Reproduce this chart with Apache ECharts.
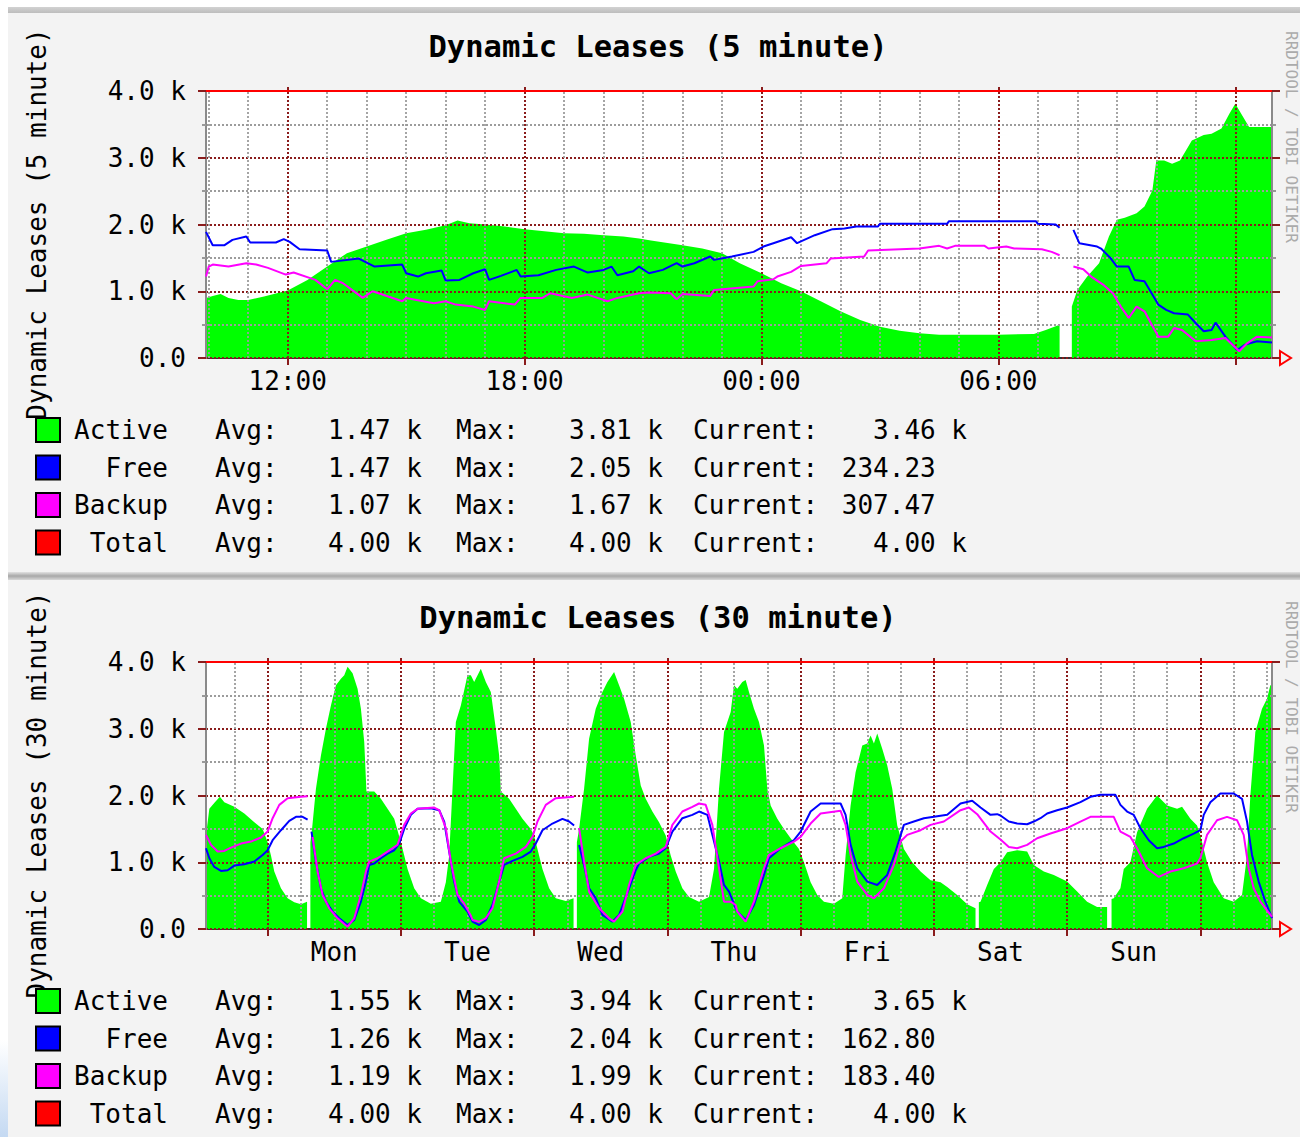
<!DOCTYPE html>
<html>
<head>
<meta charset="utf-8">
<script src="https://cdn.jsdelivr.net/npm/echarts@6/dist/echarts.min.js"></script>
<style>
html, body { margin: 0; padding: 0; background: #fff; }
#main { width: 1300px; height: 1137px; }
</style>
</head>
<body>
<div id="main"></div>
<script>
// ---- data: [hour, value] ----
// top graph: hours counted from midnight of day 1 (24 = 00:00 next day)
const activeTop = [[9.93,900],[10.1,930],[10.3,960],[10.5,900],[10.75,870],[11.0,870],[11.4,920],[12.0,1010],[12.5,1170],[13.0,1370],[13.5,1570],[14.0,1670],[14.5,1770],[15.0,1870],[15.5,1920],[16.0,1990],[16.3,2060],[16.6,2020],[17.0,2000],[17.5,1970],[18.0,1930],[19.0,1870],[19.5,1860],[20.0,1840],[20.5,1820],[20.9,1790],[21.2,1760],[22.0,1690],[22.5,1640],[23.0,1570],[23.45,1420],[24.0,1270],[24.5,1120],[25.0,1000],[25.5,850],[26.0,700],[26.5,570],[27.0,470],[27.5,410],[28.0,370],[28.5,350],[29.0,350],[30.0,350],[30.9,360],[31.2,420],[31.55,500],[31.7,null],[31.86,770],[32.0,1020],[32.25,1220],[32.55,1420],[32.8,1820],[33.0,2070],[33.2,2100],[33.5,2170],[33.7,2270],[33.9,2510],[34.0,2960],[34.2,2960],[34.4,2910],[34.6,2960],[34.9,3260],[35.2,3340],[35.4,3360],[35.65,3440],[35.85,3660],[36.0,3810],[36.15,3660],[36.35,3460],[36.93,3460]];
const freeTop = [[9.93,1890],[10.1,1690],[10.4,1690],[10.6,1770],[10.95,1820],[11.05,1730],[11.7,1730],[11.9,1780],[12.05,1740],[12.3,1630],[13.0,1610],[13.1,1440],[13.8,1490],[14.2,1370],[14.9,1400],[15.0,1270],[15.3,1220],[15.5,1270],[15.9,1310],[16.0,1160],[16.35,1170],[16.7,1270],[17.0,1330],[17.1,1170],[17.4,1230],[17.8,1320],[17.9,1220],[18.35,1240],[18.8,1320],[19.25,1370],[19.6,1280],[20.0,1320],[20.2,1370],[20.35,1240],[20.75,1300],[20.9,1370],[21.15,1270],[21.5,1320],[21.85,1420],[22.0,1370],[22.3,1420],[22.7,1520],[22.8,1470],[23.25,1520],[23.8,1590],[24.05,1670],[24.3,1720],[24.75,1810],[24.9,1720],[25.35,1840],[25.8,1930],[26.1,1940],[26.4,1970],[26.95,1970],[27.0,2010],[28.7,2010],[28.75,2050],[30.95,2050],[31.0,2010],[31.45,2000],[31.55,1950],[31.7,null],[31.9,1920],[32.05,1720],[32.5,1670],[32.6,1640],[32.85,1490],[33.0,1370],[33.3,1370],[33.45,1170],[33.7,1150],[34.05,800],[34.25,720],[34.45,670],[34.8,650],[35.0,520],[35.2,400],[35.4,420],[35.5,530],[35.75,320],[36.05,120],[36.25,200],[36.55,250],[36.93,234]];
const backupTop = [[9.93,1220],[10.0,1370],[10.1,1400],[10.5,1370],[10.95,1420],[11.2,1400],[11.5,1350],[11.95,1250],[12.15,1280],[12.7,1170],[13.0,1030],[13.2,1170],[13.4,1120],[13.9,900],[14.15,1000],[14.9,850],[15.0,900],[15.7,820],[16.0,850],[16.25,800],[16.7,770],[17.0,720],[17.1,850],[17.75,800],[17.9,900],[18.45,900],[18.65,970],[19.2,900],[19.6,950],[20.1,850],[20.35,900],[20.9,970],[21.15,980],[21.7,970],[21.85,880],[22.0,960],[22.7,930],[22.8,1020],[23.8,1070],[23.9,1150],[24.3,1180],[24.4,1220],[24.75,1290],[25.0,1380],[25.65,1420],[25.75,1490],[26.6,1520],[26.7,1610],[28.0,1640],[28.5,1680],[28.7,1640],[28.9,1680],[29.65,1680],[29.75,1640],[30.2,1670],[30.4,1640],[31.1,1630],[31.35,1590],[31.55,1540],[31.7,null],[31.9,1370],[32.15,1330],[32.35,1220],[32.65,1100],[32.9,970],[33.1,770],[33.3,600],[33.5,770],[33.7,700],[34.05,320],[34.3,320],[34.45,450],[34.65,420],[35.0,250],[35.4,270],[35.75,300],[36.1,100],[36.3,220],[36.55,320],[36.93,307]];

// bottom graph: hours counted from Mon 00:00
const activeBottom = [[-11.1,1400],[-10.5,1800],[-9.5,1900],[-8.6,1980],[-7.8,1900],[-6.0,1830],[-4.2,1730],[-2.4,1600],[-0.9,1500],[0.0,1300],[0.6,1100],[1.2,860],[2.4,610],[3.6,460],[4.8,400],[6.0,370],[7.1,410],[7.4,null],[7.7,1300],[8.0,1500],[8.7,2100],[9.6,2600],[10.5,3000],[11.4,3350],[12.3,3650],[13.2,3750],[13.8,3800],[14.4,3930],[15.3,3830],[16.2,3600],[16.8,3300],[17.4,2800],[17.8,2060],[19.2,2060],[20.4,1950],[21.6,1800],[22.8,1650],[24.0,1300],[24.6,1100],[25.2,900],[26.4,610],[27.6,460],[29.4,380],[31.2,410],[32.1,700],[32.7,1100],[33.3,2100],[33.9,3100],[34.8,3350],[36.0,3800],[36.6,3800],[37.2,3700],[38.4,3900],[39.3,3700],[40.2,3550],[41.1,3000],[41.7,2600],[42.0,2060],[43.5,1950],[44.7,1800],[45.9,1650],[47.4,1500],[48.0,1400],[48.6,1200],[49.5,900],[50.7,610],[51.9,460],[53.7,420],[55.1,460],[55.4,null],[55.7,1300],[56.1,1500],[57.0,2100],[57.9,2850],[59.1,3300],[60.3,3550],[61.2,3700],[62.4,3850],[63.3,3650],[64.2,3450],[65.4,3100],[66.3,2600],[67.2,2150],[68.1,1950],[69.3,1760],[70.5,1600],[71.7,1400],[72.6,1100],[73.5,860],[74.7,610],[75.9,480],[77.7,410],[79.5,480],[80.4,900],[81.3,2100],[82.2,2950],[83.4,3250],[84.0,3650],[84.6,3600],[85.5,3700],[86.1,3730],[86.7,3550],[87.6,3300],[88.5,3100],[89.4,2750],[90.0,2100],[90.6,1850],[91.8,1650],[93.0,1500],[94.2,1360],[95.7,1200],[96.6,1000],[97.8,700],[99.0,510],[100.2,410],[102.0,380],[103.5,460],[104.1,1100],[105.0,1850],[105.9,2350],[107.1,2750],[108.0,2780],[108.6,2900],[109.2,2780],[109.8,2930],[110.7,2700],[111.6,2450],[112.5,2100],[113.4,1550],[114.6,1200],[116.1,1000],[117.6,860],[119.4,730],[121.2,700],[122.4,630],[124.2,510],[126.0,370],[127.5,310],[127.8,null],[128.1,400],[128.4,410],[129.6,660],[130.8,900],[132.0,1000],[133.2,1150],[135.0,1180],[136.8,1160],[138.0,960],[139.8,860],[141.6,810],[144.0,710],[145.8,560],[147.6,410],[149.4,330],[151.2,330],[151.6,null],[152.0,450],[152.4,460],[153.6,610],[154.2,900],[155.4,1000],[156.6,1450],[158.4,1800],[160.2,2000],[162.0,1850],[163.8,1800],[164.7,1830],[166.2,1650],[167.4,1550],[168.0,1400],[169.2,1000],[170.4,700],[172.2,460],[174.0,410],[175.5,510],[176.4,1100],[177.0,2000],[177.9,2950],[179.1,3300],[180.0,3450],[180.6,3650],[180.9,3650]];
const freeBottom = [[-11.1,1210],[-10.5,1060],[-9.6,930],[-8.4,870],[-7.2,880],[-6.0,950],[-4.2,970],[-2.4,1010],[-0.9,1110],[0.0,1180],[0.9,1330],[2.4,1480],[3.9,1620],[5.1,1680],[6.3,1680],[7.2,1640],[7.4,null],[7.9,1460],[8.7,1010],[9.6,610],[10.5,410],[11.7,260],[12.9,160],[14.4,60],[15.6,135],[16.8,410],[17.7,710],[18.3,960],[19.2,980],[20.4,1060],[21.6,1130],[22.8,1180],[23.7,1280],[24.6,1500],[25.8,1710],[27.0,1800],[29.4,1810],[30.9,1780],[31.8,1610],[32.7,1160],[33.6,710],[34.5,410],[36.0,260],[36.9,110],[38.1,60],[39.3,135],[40.5,360],[41.7,710],[42.6,960],[44.1,1020],[45.9,1080],[47.4,1160],[48.3,1280],[49.5,1480],[51.3,1580],[53.1,1650],[54.3,1610],[55.2,1550],[55.4,null],[56.1,1260],[57.0,960],[57.9,610],[59.1,460],[60.3,210],[62.1,110],[63.3,210],[65.1,610],[66.3,880],[66.9,980],[68.7,1080],[70.5,1130],[71.7,1210],[72.9,1460],[74.7,1660],[76.5,1710],[77.7,1760],[79.2,1710],[80.1,1410],[81.3,1010],[82.2,660],[83.1,560],[83.4,500],[84.3,310],[84.6,260],[86.1,135],[87.6,360],[89.4,810],[90.3,1060],[92.4,1210],[94.8,1330],[96.0,1460],[97.8,1760],[99.6,1880],[103.2,1880],[104.1,1710],[105.0,1260],[106.2,910],[108.0,710],[109.8,660],[111.6,810],[113.1,1160],[114.6,1560],[116.4,1610],[118.2,1660],[120.0,1680],[122.4,1710],[124.8,1880],[126.9,1920],[128.4,1820],[130.2,1710],[131.4,1720],[132.0,1700],[133.5,1610],[135.0,1580],[136.8,1570],[138.0,1610],[139.2,1660],[140.4,1730],[142.2,1780],[144.0,1820],[146.4,1900],[148.2,1980],[150.0,2010],[152.7,2010],[153.6,1860],[154.8,1760],[156.0,1710],[157.2,1510],[158.7,1330],[160.2,1210],[161.4,1230],[163.2,1280],[165.0,1360],[166.8,1430],[168.0,1480],[168.6,1710],[169.8,1900],[171.6,2030],[174.0,2030],[175.5,1950],[176.4,1610],[177.3,1110],[178.5,710],[179.7,410],[180.9,163]];
const backupBottom = [[-11.1,1410],[-10.2,1260],[-9.0,1160],[-7.8,1170],[-6.6,1220],[-4.8,1280],[-3.0,1310],[-1.2,1370],[0.0,1460],[0.9,1660],[2.1,1860],[3.6,1960],[6.0,1980],[7.2,1990],[7.4,null],[8.1,1380],[9.0,860],[9.9,510],[11.1,310],[12.6,160],[14.4,35],[15.6,160],[16.8,510],[17.7,860],[18.3,1010],[19.8,1060],[21.6,1160],[23.4,1260],[24.6,1560],[25.8,1730],[27.0,1800],[30.0,1820],[30.9,1780],[32.1,1510],[33.0,1010],[34.2,510],[35.4,380],[36.6,200],[36.9,135],[38.1,110],[39.3,160],[40.5,310],[41.7,710],[42.6,1060],[44.7,1130],[46.5,1230],[47.7,1380],[48.6,1610],[50.1,1860],[51.9,1960],[55.2,1980],[55.4,null],[56.1,1510],[57.0,1010],[57.9,560],[59.7,310],[61.5,160],[62.4,110],[63.9,260],[65.1,660],[66.3,960],[68.1,1060],[69.9,1130],[71.7,1230],[72.9,1560],[74.7,1760],[76.5,1830],[77.7,1880],[78.9,1860],[80.1,1560],[81.3,910],[82.2,410],[83.4,410],[84.3,360],[84.6,260],[86.1,110],[87.6,410],[89.4,910],[90.3,1110],[92.4,1210],[94.8,1310],[96.0,1380],[97.8,1580],[99.6,1730],[103.2,1770],[104.1,1560],[105.0,1110],[106.2,710],[108.0,510],[109.2,460],[111.0,610],[112.8,960],[114.0,1310],[115.2,1410],[117.6,1480],[119.4,1560],[121.8,1610],[124.8,1780],[126.3,1820],[127.8,1720],[130.2,1460],[132.0,1340],[133.5,1230],[135.0,1210],[136.8,1260],[138.6,1360],[141.0,1430],[144.0,1510],[146.4,1610],[148.2,1680],[152.4,1680],[153.6,1460],[155.4,1380],[156.6,1210],[158.4,910],[160.5,780],[162.6,860],[165.0,910],[167.4,980],[168.0,1060],[169.2,1410],[171.0,1630],[172.8,1680],[174.6,1630],[175.8,1410],[176.7,910],[177.6,610],[178.8,410],[180.9,183]];
const totalValue = 4000;

// ---- axis ticks / labels ----
const topLabelHours = [12, 18, 24, 30];
const topLabelText = ['12:00', '18:00', '00:00', '06:00'];
const topMajorHours = [12, 18, 24, 30, 36];
const bottomLabelHours = [12, 36, 60, 84, 108, 132, 156];
const dayNames = ['Mon', 'Tue', 'Wed', 'Thu', 'Fri', 'Sat', 'Sun'];
const bottomMajorHours = [0, 24, 48, 72, 96, 120, 144, 168];

// ---- legend text (as printed under each graph) ----
const seriesNames = ['Active', 'Free', 'Backup', 'Total'];
const seriesColors = ['#00ff00', '#0000ff', '#ff00ff', '#ff0000'];
const statsTop = [['1.47 k', '3.81 k', '3.46 k'], ['1.47 k', '2.05 k', '234.23'], ['1.07 k', '1.67 k', '307.47'], ['4.00 k', '4.00 k', '4.00 k']];
const statsBottom = [['1.55 k', '3.94 k', '3.65 k'], ['1.26 k', '2.04 k', '162.80'], ['1.19 k', '1.99 k', '183.40'], ['4.00 k', '4.00 k', '4.00 k']];

const FONT = '"DejaVu Sans Mono", "Liberation Mono", monospace';
const MGRID = '#8a1c1c';
const GRIDC = '#9c9c9c';
const GL = 206, GW = 1066, GH = 267;
const CH = 15.65; // one character of the 26px legend font
const panels = [
  { top: 91, xmin: 9.93, xmax: 36.93, title: 'Dynamic Leases (5 minute)',
    active: activeTop, free: freeTop, backup: backupTop,
    labels: topLabelHours, fmt: v => topLabelText[topLabelHours.indexOf(v)],
    majors: topMajorHours, minorStep: 1, stats: statsTop, legendY: 430, titleY: 31, nameY: 224, rrdY: 137 },
  { top: 662, xmin: -11.1, xmax: 180.9, title: 'Dynamic Leases (30 minute)',
    active: activeBottom, free: freeBottom, backup: backupBottom,
    labels: bottomLabelHours, fmt: v => dayNames[bottomLabelHours.indexOf(v)],
    majors: bottomMajorHours, minorStep: 6, stats: statsBottom, legendY: 1001, titleY: 602, nameY: 795, rrdY: 707 }
];

const grid = [], xAxis = [], yAxis = [], series = [], title = [], graphic = [];

// page decoration
graphic.push({ type: 'rect', shape: { x: 0, y: 0, width: 1300, height: 7 }, style: { fill: '#fff' }, silent: true });
graphic.push({ type: 'rect', shape: { x: 0, y: 0, width: 8, height: 1137 }, style: { fill: '#fff' }, silent: true });
graphic.push({ type: 'rect', shape: { x: 0, y: 1040, width: 8, height: 97 },
  style: { fill: new echarts.graphic.LinearGradient(0, 0, 0, 1, [{ offset: 0, color: '#ffffff' }, { offset: 1, color: '#c4d9f2' }]) }, silent: true });
graphic.push({ type: 'rect', shape: { x: 8, y: 7, width: 1292, height: 6 },
  style: { fill: new echarts.graphic.LinearGradient(0, 0, 0, 1, [{ offset: 0, color: '#d2d2d2' }, { offset: 1, color: '#bdbdbd' }]) }, silent: true });
graphic.push({ type: 'rect', shape: { x: 8, y: 572, width: 1292, height: 8 },
  style: { fill: new echarts.graphic.LinearGradient(0, 0, 0, 1, [{ offset: 0, color: '#e2e2e2' }, { offset: 0.5, color: '#a8a8a8' }, { offset: 1, color: '#d8d8d8' }]) }, silent: true });

const majorLine = { color: MGRID, type: [2, 2], width: 2 };
const minorLine = { color: GRIDC, type: [2, 2], width: 1.8 };

panels.forEach((p, g) => {
  grid.push({ left: GL, top: p.top, width: GW, height: GH, show: true, backgroundColor: '#fff', borderWidth: 0 });

  xAxis.push({
    gridIndex: g, type: 'value', min: p.xmin, max: p.xmax, z: 1,
    axisLine: { onZero: false, lineStyle: { color: '#333', width: 2 } },
    axisTick: { show: true, customValues: p.majors, length: 7, lineStyle: { color: MGRID, width: 2 } },
    axisLabel: { customValues: p.labels, formatter: p.fmt, fontFamily: FONT, fontSize: 26, color: '#000', margin: 10 },
    splitLine: { show: false }
  });
  xAxis.push({
    gridIndex: g, type: 'value', min: p.xmin, max: p.xmax, position: 'top', z: 1,
    axisLine: { show: false, onZero: false },
    axisTick: { show: true, customValues: p.majors, length: 4, lineStyle: { color: MGRID, width: 2 } },
    axisLabel: { show: false }, splitLine: { show: false }
  });

  yAxis.push({
    gridIndex: g, type: 'value', min: 0, max: 4000, interval: 1000, z: 3,
    axisLine: { show: true, onZero: false, lineStyle: { color: '#8a8a8a', width: 2 } },
    axisTick: { show: true, length: 8, lineStyle: { color: MGRID, width: 2 } },
    minorTick: { show: true, splitNumber: 2, length: 4, lineStyle: { color: '#999', width: 2 } },
    splitLine: { show: true, lineStyle: majorLine },
    minorSplitLine: { show: true, lineStyle: minorLine },
    axisLabel: { formatter: v => v === 0 ? '0.0' : (v / 1000).toFixed(1) + ' k', fontFamily: FONT, fontSize: 26, color: '#000', margin: 20 }
  });
  yAxis.push({
    gridIndex: g, type: 'value', min: 0, max: 4000, interval: 1000, position: 'right', z: 3,
    axisLine: { show: true, onZero: false, lineStyle: { color: '#8a8a8a', width: 2 } },
    axisTick: { show: true, length: 8, lineStyle: { color: MGRID, width: 2 } },
    minorTick: { show: true, splitNumber: 2, length: 4, lineStyle: { color: '#999', width: 2 } },
    splitLine: { show: false }, axisLabel: { show: false }
  });

  // vertical grid lines at the time ticks
  const vlines = [];
  for (let h = Math.ceil(p.xmin / p.minorStep) * p.minorStep; h <= p.xmax; h += p.minorStep) {
    if (p.majors.indexOf(h) < 0) vlines.push({ xAxis: h, lineStyle: minorLine });
  }
  p.majors.forEach(h => vlines.push({ xAxis: h, lineStyle: majorLine }));

  const xi = g * 2, yi = g * 2;
  series.push({ name: 'Active', type: 'line', xAxisIndex: xi, yAxisIndex: yi, data: p.active, showSymbol: false, silent: true,
    lineStyle: { width: 0 }, itemStyle: { color: '#00ff00' }, areaStyle: { color: '#00ff00', opacity: 1 }, z: 2 });
  series.push({ name: 'Free', type: 'line', xAxisIndex: xi, yAxisIndex: yi, data: p.free, showSymbol: false, silent: true,
    lineStyle: { width: 2, color: '#0000ff' }, itemStyle: { color: '#0000ff' }, z: 4 });
  series.push({ name: 'Backup', type: 'line', xAxisIndex: xi, yAxisIndex: yi, data: p.backup, showSymbol: false, silent: true,
    lineStyle: { width: 2, color: '#ff00ff' }, itemStyle: { color: '#ff00ff' }, z: 5 });
  series.push({ name: 'Total', type: 'line', xAxisIndex: xi, yAxisIndex: yi, data: [[p.xmin, totalValue], [p.xmax, totalValue]],
    showSymbol: false, silent: true, lineStyle: { width: 2, color: '#ff0000' }, itemStyle: { color: '#ff0000' }, z: 6,
    markLine: { silent: true, z: 3, symbol: ['none', 'none'], label: { show: false }, animation: false, data: vlines } });

  title.push({ text: p.title, left: 658, top: p.titleY, textAlign: 'center', padding: 0,
    textStyle: { fontFamily: FONT, fontSize: 30.5, fontWeight: 'bold', color: '#000' } });

  // rotated axis title and rrdtool credit
  graphic.push({ type: 'text', x: 37, y: p.nameY, rotation: Math.PI / 2, silent: true,
    style: { text: p.title, font: '26px ' + FONT, fill: '#000', align: 'center', verticalAlign: 'middle', textAlign: 'center', textVerticalAlign: 'middle' } });
  graphic.push({ type: 'text', x: 1291, y: p.rrdY, rotation: -Math.PI / 2, silent: true,
    style: { text: 'RRDTOOL / TOBI OETIKER', font: '16px ' + FONT, fill: '#ababab', align: 'center', verticalAlign: 'middle', textAlign: 'center', textVerticalAlign: 'middle' } });

  // arrow at the end of the time axis
  const ay = p.top + GH, ax = GL + GW;
  graphic.push({ type: 'polyline', silent: true, shape: { points: [[ax, ay], [ax + 8, ay]] }, style: { stroke: '#ff0000', lineWidth: 2 } });
  graphic.push({ type: 'polygon', silent: true, shape: { points: [[ax + 8, ay - 7], [ax + 19, ay], [ax + 8, ay + 7]] }, style: { stroke: '#ff0000', fill: 'none', lineWidth: 2 } });

  // legend block: values printed as "%8.2lf %s", so the number ends two characters before the column end
  seriesNames.forEach((name, i) => {
    const yc = p.legendY + i * 37.5;
    const txt = (x, s, al) => ({ type: 'text', x: x, y: yc, silent: true,
      style: { text: s, font: '26px ' + FONT, fill: '#000', align: al, verticalAlign: 'middle', textAlign: al, textVerticalAlign: 'middle' } });
    const value = (colEnd, s) => {
      const parts = s.split(' ');
      graphic.push(txt(colEnd - 2 * CH, parts[0], 'right'));
      if (parts[1]) graphic.push(txt(colEnd, parts[1], 'right'));
    };
    graphic.push({ type: 'rect', silent: true, shape: { x: 36, y: yc - 12, width: 24, height: 24 }, style: { fill: seriesColors[i], stroke: '#000', lineWidth: 2 } });
    graphic.push(txt(168, name, 'right'));
    graphic.push(txt(215, 'Avg:', 'left'));
    value(422, p.stats[i][0]);
    graphic.push(txt(456, 'Max:', 'left'));
    value(663, p.stats[i][1]);
    graphic.push(txt(693, 'Current:', 'left'));
    value(967, p.stats[i][2]);
  });
});

const myChart = echarts.init(document.getElementById('main'), null, { renderer: 'svg' });
myChart.setOption({
  backgroundColor: '#f3f3f3',
  animation: false,
  title: title,
  grid: grid,
  xAxis: xAxis,
  yAxis: yAxis,
  series: series,
  graphic: graphic
});
</script>
</body>
</html>
